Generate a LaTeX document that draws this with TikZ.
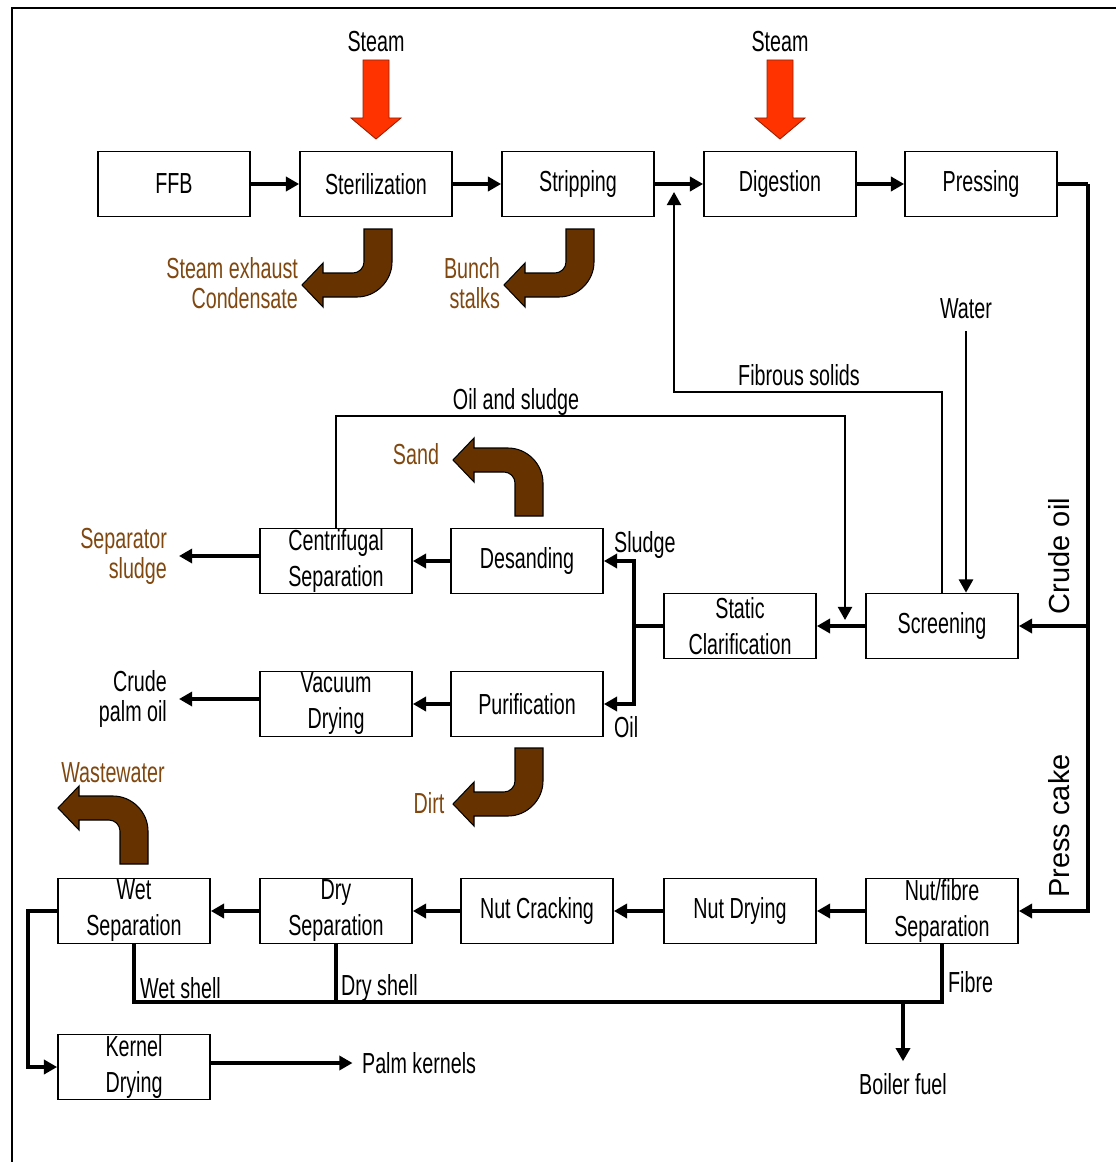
\documentclass[tikz,border=0pt]{standalone}
\usepackage{fontspec}
\setmainfont{Liberation Sans}[FakeStretch=0.68]
\newfontfamily\widefont{Liberation Sans}
\usepackage{tikz}
\usetikzlibrary{arrows.meta, positioning}
\usepackage{xcolor}
\definecolor{steamred}{RGB}{255, 51, 0}
\definecolor{waste}{RGB}{102, 51, 0}
\definecolor{wastetext}{RGB}{128, 72, 16}

\begin{document}
\begin{tikzpicture}[x=0.02cm, y=-0.02cm,
  unit/.style={draw, line width=1pt, minimum width=3.04cm, minimum height=1.3cm,
    inner sep=0pt, align=center, font=\fontsize{16.5}{20.5}\selectfont},
  lbl/.style={inner sep=1pt, font=\fontsize{16.5}{17}\selectfont},
  outlbl/.style={lbl, text=wastetext},
  flow/.style={line width=1.9pt, -{Triangle[length=7.5pt, width=8pt]}},
  thinflow/.style={line width=1.4pt, -{Triangle[length=7.5pt, width=8pt]}},
  pipe/.style={line width=1.9pt},
  pics/steamin/.style={code={
    \filldraw[fill=steamred, draw=steamred!60!black, line width=0.5pt]
      (-13,0) -- (13,0) -- (13,58) -- (25,58) -- (0,79) -- (-25,58) -- (-13,58) -- cycle;}},
  pics/bentout/.style={code={
    \filldraw[fill=waste, draw=black, line width=0.6pt]
      (-14,0) -- (14,0) -- (14,33) .. controls (14,52) and (-2,68) .. (-21,68)
      -- (-55,68) -- (-55,78) -- (-76,56) -- (-55,34) -- (-55,44) -- (-25,44)
      .. controls (-19,44) and (-14,39) .. (-14,33) -- cycle;}}]
  \useasboundingbox (0,0) rectangle (1116,1162);
  % frame
  \draw[line width=1.7pt] (12,1162) -- (12,8) -- (1116,8);

  % main line
  \node[unit] (ffb) at (174,184) {FFB};
  \node[unit] (ster) at (376,184) {Sterilization};
  \node[unit] (strip) at (578,184) {Stripping};
  \node[unit] (dig) at (780,184) {Digestion};
  \node[unit] (press) at (981,184) {Pressing};
  \draw[flow] (ffb.east) -- (ster.west);
  \draw[flow] (ster.east) -- (strip.west);
  \draw[flow] (strip.east) -- (dig.west);
  \draw[flow] (dig.east) -- (press.west);

  % steam inputs
  \node[lbl] (steamA) at (376,42) {Steam};
  \node[lbl] (steamB) at (780,42) {Steam};
  \pic at (376,60) {steamin};
  \pic at (780,60) {steamin};

  % wastes from the top line
  \pic at (378,229) {bentout};
  \node[outlbl, anchor=east, align=right] (exh) at (300,283) {Steam exhaust\\Condensate};
  \pic at (580,229) {bentout};
  \node[outlbl, anchor=east, align=right] (stalk) at (502,283) {Bunch\\stalks};

  % oil clarification
  \node[unit] (screen) at (942,626) {Screening};
  \node[unit] (stat) at (740,626) {Static\\Clarification};
  \node[unit] (desand) at (527,561) {Desanding};
  \node[unit] (cent) at (336,561) {Centrifugal\\Separation};
  \node[unit] (purif) at (527,704) {Purification};
  \node[unit] (vac) at (336,704) {Vacuum\\Drying};

  \coordinate (rise) at (1088,184);
  \draw[pipe] (press.east) -- (rise);
  \draw[flow] (rise |- screen) -- (screen.east);
  \node[lbl, font=\widefont\fontsize{16.5}{17}\selectfont, rotate=90] (crude) at (1059,556) {Crude oil};

  \node[lbl] (water) at (966,309) {Water};
  \draw[thinflow] ([yshift=-0.2cm]water.south) -- (water.south |- screen.north);
  \draw[thinflow] (screen.north) -- (942,392) -| (674,192);
  \node[lbl] (fibsol) at (799,375) {Fibrous solids};
  \draw[flow] (screen.west) -- (stat.east);

  \coordinate (split) at (634,626);
  \draw[line width=2.6pt] (stat.west) -- (split);
  \draw[flow] (split) |- (desand.east);
  \draw[flow] (split) |- (purif.east);
  \node[lbl, anchor=west] (sludge) at (612,545) {Sludge};
  \node[lbl, anchor=west] (oil) at (612,727) {Oil};

  \draw[flow] (desand.west) -- (cent.east);
  \draw[flow] (purif.west) -- (vac.east);
  \draw[thinflow] (cent.north) -- (336,416) -| (845,620);
  \node[lbl] (oilsl) at (516,402) {Oil and sludge};

  \pic[yscale=-1] at (529,516) {bentout};
  \node[outlbl] (sand) at (416,454) {Sand};
  \pic at (529,748) {bentout};
  \node[outlbl] (dirt) at (429,803) {Dirt};

  \node[outlbl, anchor=east, align=right] (sepsl) at (169,556) {Separator\\sludge};
  \draw[flow] (cent.west |- sepsl) -- ([xshift=0.2cm]sepsl.east);
  \node[lbl, anchor=east, align=right] (cpo) at (169,699) {Crude\\palm oil};
  \draw[flow] (vac.west |- cpo) -- ([xshift=0.2cm]cpo.east);

  % kernel recovery
  \node[unit] (nutfib) at (942,911) {Nut/fibre\\Separation};
  \node[unit] (ndry) at (740,911) {Nut Drying};
  \node[unit] (crack) at (537,911) {Nut Cracking};
  \node[unit] (dry) at (336,911) {Dry\\Separation};
  \node[unit] (wet) at (134,911) {Wet\\Separation};
  \node[unit] (kern) at (134,1067) {Kernel\\Drying};

  \draw[flow] (rise) |- (nutfib.east);
  \node[lbl, font=\widefont\fontsize{16.5}{17}\selectfont, rotate=90] (cake) at (1059,826) {Press cake};
  \draw[flow] (nutfib.west) -- (ndry.east);
  \draw[flow] (ndry.west) -- (crack.east);
  \draw[flow] (crack.west) -- (dry.east);
  \draw[flow] (dry.west) -- (wet.east);
  \draw[flow] (wet.west) -- ++(-29,0) |- (kern.west);

  \pic[yscale=-1] at (134,864) {bentout};
  \node[outlbl] (wastew) at (113,773) {Wastewater};

  \node[lbl, anchor=west] (pk) at (360,1063) {Palm kernels};
  \draw[flow] (kern.east |- pk) -- ([xshift=-0.15cm]pk.west);

  % shells and fibre to the boiler
  \coordinate (fuel) at (942,1002);
  \draw[pipe] (wet.south) |- (fuel) -- (nutfib.south);
  \draw[pipe] (dry.south) -- (dry.south |- fuel);
  \node[lbl, anchor=west] (wsh) at (138,988) {Wet shell};
  \node[lbl, anchor=west] (dsh) at (339,988) {Dry shell};
  \node[lbl, anchor=west] (fib) at (946,982) {Fibre};
  \node[lbl] (bf) at (903,1084) {Boiler fuel};
  \draw[flow] (bf.north |- fuel) -- ([yshift=0.2cm]bf.north);
\end{tikzpicture}
\end{document}
